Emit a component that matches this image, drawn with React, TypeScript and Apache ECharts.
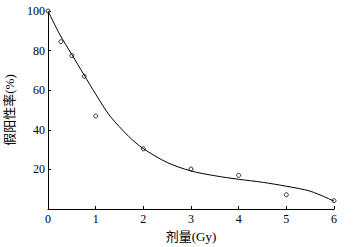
import React, { useEffect, useRef } from "react";
import * as echarts from "echarts";

const xTicks = [0, 1, 2, 3, 4, 5, 6];
const yTicks = [20, 40, 60, 80, 100];
const pointX = [0, 0.27, 0.5, 0.76, 1.0, 2.0, 3.0, 4.0, 5.0, 6.0];
const pointY = [100, 84.5, 77.5, 67, 47, 30.4, 20.2, 17, 7.2, 4.2];
const curveX = [0, 0.25, 0.5, 0.75, 1.0, 1.3, 1.7, 2.0, 2.5, 3.0, 3.5, 4.0, 4.5, 5.0, 5.5, 6.0];
const curveY = [100, 88, 78, 68, 58, 47, 36.5, 30.5, 23.5, 19.2, 16.8, 15, 13.5, 11.5, 9, 4];

const FONT = "'Liberation Serif', 'Times New Roman', 'Noto Sans CJK SC', serif";

export default function App() {
  const ref = useRef<HTMLDivElement>(null);
  useEffect(() => {
    if (!ref.current) return;
    const chart = echarts.init(ref.current, undefined, { renderer: "svg" });
    chart.setOption({
      animation: false,
      backgroundColor: "#fff",
      textStyle: { fontFamily: FONT },
      grid: {
        left: 48,
        top: 11,
        right: 21,
        bottom: 38,
        containLabel: false,
        outerBoundsMode: "none",
      },
      xAxis: {
        type: "value",
        min: 0,
        max: 6,
        interval: 1,
        name: "剂量(Gy)",
        nameLocation: "middle",
        nameGap: 17,
        nameTextStyle: { color: "#000", fontSize: 13, fontFamily: FONT },
        axisLine: { lineStyle: { color: "#000", width: 1 } },
        axisTick: { inside: true, length: 3, lineStyle: { color: "#000" } },
        axisLabel: {
          color: "#000",
          fontSize: 12,
          fontFamily: FONT,
          margin: 4,
          formatter: (v: number) => (xTicks.includes(v) ? String(v) : ""),
        },
        splitLine: { show: false },
      },
      yAxis: {
        type: "value",
        min: 0,
        max: 100,
        interval: 20,
        name: "假阳性率(%)",
        nameLocation: "middle",
        nameGap: 28,
        nameRotate: 90,
        nameTextStyle: { color: "#000", fontSize: 13, fontFamily: FONT },
        axisLine: { show: true, lineStyle: { color: "#000", width: 1 } },
        axisTick: { inside: true, length: 3, lineStyle: { color: "#000" } },
        axisLabel: {
          color: "#000",
          fontSize: 12,
          fontFamily: FONT,
          margin: 3,
          formatter: (v: number) => (yTicks.includes(v) ? String(v) : ""),
        },
        splitLine: { show: false },
      },
      series: [
        {
          type: "line",
          data: curveX.map((x, i) => [x, curveY[i]]),
          smooth: 0.3,
          symbol: "none",
          lineStyle: { color: "#000", width: 1 },
        },
        {
          type: "scatter",
          data: pointX.map((x, i) => [x, pointY[i]]),
          symbol: "circle",
          symbolSize: 4,
          itemStyle: { color: "#fff", borderColor: "#000", borderWidth: 1 },
        },
      ],
    });
    return () => chart.dispose();
  }, []);
  return (
    <div
      ref={ref}
      style={{ position: "absolute", left: 0, top: 0, width: 355, height: 247 }}
    />
  );
}
